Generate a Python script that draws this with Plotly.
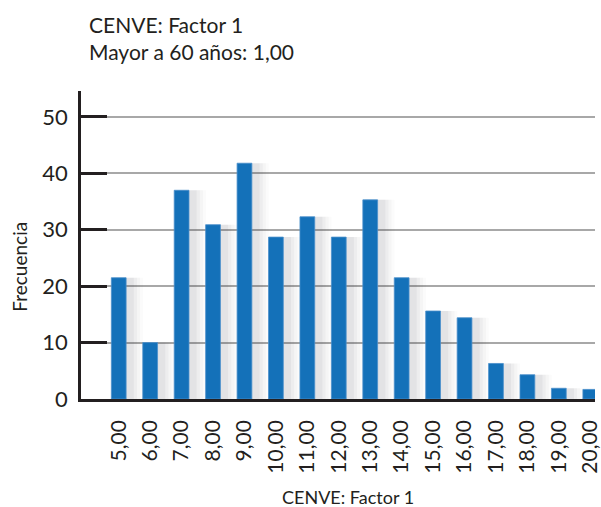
import plotly.graph_objects as go

categories = ["5,00", "6,00", "7,00", "8,00", "9,00", "10,00", "11,00", "12,00",
              "13,00", "14,00", "15,00", "16,00", "17,00", "18,00", "19,00", "20,00"]
frecuencia = [21.5, 10.0, 37.0, 30.9, 41.8, 28.7, 32.3, 28.7,
              35.3, 21.5, 15.6, 14.4, 6.3, 4.3, 1.9, 1.7]
y_ticks = [0, 10, 20, 30, 40, 50]

W, H = 601, 507
L, R, T, B = 81, 0, 91, 108
PW, PH = W - L - R, H - T - B
FONT = "Lato, 'Open Sans', sans-serif"
TXT = "#231f20"
BLUE = "#1471b9"

xpos = list(range(len(categories)))

fig = go.Figure()

# soft drop shadow (layered translucent bars)
for w, off, a in [(0.95, -0.18, 0.02), (0.85, -0.17, 0.03), (0.74, -0.16, 0.04), (0.63, -0.15, 0.05)]:
    fig.add_trace(go.Bar(
        x=xpos, y=frecuencia, width=w, offset=off,
        marker=dict(color=f"rgba(60,60,70,{a})", line=dict(width=0)),
        hoverinfo="skip", showlegend=False,
    ))

fig.add_trace(go.Bar(
    x=xpos, y=frecuencia, width=0.47,
    marker=dict(color=BLUE, line=dict(color="#4a8fcc", width=0.8)),
    showlegend=False,
))

def px_x(px):
    return (px - L) / PW

def px_y(py):
    return (H - B - py) / PH

fig.update_layout(
    width=W, height=H,
    margin=dict(l=L, r=R, t=T, b=B),
    paper_bgcolor="white", plot_bgcolor="white",
    barmode="overlay",
    font=dict(family=FONT, color=TXT),
    xaxis=dict(
        tickmode="array", tickvals=xpos, ticktext=categories,
        range=[-1.2, 15.15],
        tickangle=-90, tickfont=dict(size=21, family=FONT, color=TXT),
        showgrid=False, zeroline=False,
        showline=True, linecolor="#231f20", linewidth=2.5,
        ticks="", ticklabelstandoff=10, ticklabeloverflow="allow",
    ),
    yaxis=dict(
        range=[0, 54.6], tickvals=y_ticks,
        tickfont=dict(size=22, family=FONT, color=TXT),
        showgrid=True, gridcolor="#a8a8a8", gridwidth=1.5,
        zeroline=False,
        showline=True, linecolor="#231f20", linewidth=2.5,
        ticks="inside", ticklen=26, tickwidth=2.5, tickcolor="#231f20",
        ticklabelstandoff=6,
    ),
    annotations=[
        dict(text="CENVE: Factor 1", xref="paper", yref="paper",
             x=px_x(87), y=px_y(24), xanchor="left", yanchor="middle",
             showarrow=False, font=dict(size=21, family=FONT, color=TXT)),
        dict(text="Mayor a 60 años: 1,00", xref="paper", yref="paper",
             x=px_x(87), y=px_y(52), xanchor="left", yanchor="middle",
             showarrow=False, font=dict(size=21, family=FONT, color=TXT)),
        dict(text="Frecuencia", textangle=-90, xref="paper", yref="paper",
             x=px_x(18), y=px_y(267),
             xanchor="center", yanchor="middle", showarrow=False,
             font=dict(size=19, family=FONT, color=TXT)),
        dict(text="CENVE: Factor 1", xref="paper", yref="paper",
             x=px_x(351), y=px_y(497),
             xanchor="center", yanchor="middle", showarrow=False,
             font=dict(size=18, family=FONT, color=TXT)),
    ],
)

fig.write_html(
    "out.html",
    config={"displayModeBar": False},
    post_script="document.body.style.margin='0';document.body.style.overflow='hidden';",
)
